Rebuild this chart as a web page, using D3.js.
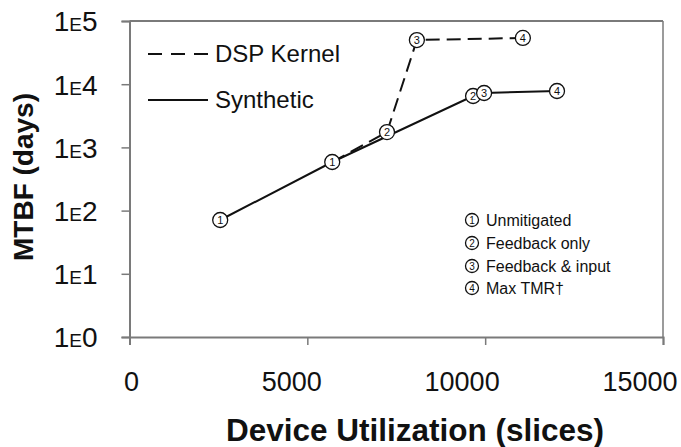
<!DOCTYPE html>
<html>
<head>
<meta charset="utf-8">
<script src="https://cdn.jsdelivr.net/npm/d3@7"></script>
<style>
  html, body { margin: 0; padding: 0; background: #fff; }
  text { font-family: "Liberation Sans", Arial, Helvetica, sans-serif; fill: #111; }
</style>
</head>
<body>
<svg id="chart" width="681" height="447"></svg>
<script>
// ---- data ----
const synthX = [2550, 5700, 9660, 9970, 12020];
const synthY = [71, 587, 6500, 7260, 7800];
const synthStage = [1, 1, 2, 3, 4];

const dspX = [5700, 7240, 8080, 11060];
const dspY = [587, 1750, 50000, 53900];
const dspStage = [1, 2, 3, 4];

const xTicks = [0, 5000, 10000, 15000];
const yTickExp = [0, 1, 2, 3, 4, 5];

const seriesNames = ["DSP Kernel", "Synthetic"];
const stageNames = ["Unmitigated", "Feedback only", "Feedback & input", "Max TMR\u2020"];

(function () {
// ---- layout ----
const svg = d3.select("#chart");
const pLeft = 129.5, pRight = 663, pTop = 21, pBottom = 337;

const x = d3.scaleLinear().domain([0, 15000]).range([pLeft, pRight]);
const y = d3.scaleLog().domain([1, 1e5]).range([pBottom, pTop]);

const axisColor = "#7a7a7a";

// frame (top and right)
svg.append("line").attr("x1", pLeft).attr("x2", pRight).attr("y1", pTop).attr("y2", pTop)
  .attr("stroke", axisColor).attr("stroke-width", 2);
svg.append("line").attr("x1", pRight).attr("x2", pRight).attr("y1", pTop).attr("y2", pBottom)
  .attr("stroke", axisColor).attr("stroke-width", 1.5);

// x axis
const xAxis = svg.append("g").attr("transform", `translate(0,${pBottom})`)
  .call(d3.axisBottom(x).tickValues(xTicks).tickSize(8).tickPadding(27).tickFormat(d3.format("d")));
xAxis.select(".domain").attr("stroke", axisColor).attr("stroke-width", 2);
xAxis.selectAll(".tick line").attr("stroke", axisColor).attr("stroke-width", 1.5);
xAxis.selectAll(".tick text").attr("font-size", 27).attr("fill", "#111")
  .attr("font-family", "'Liberation Sans', Arial, sans-serif")
  .attr("text-anchor", "end").attr("x", d => d === 0 ? 9 : 14);

// y axis
const yAxis = svg.append("g").attr("transform", `translate(${pLeft},0)`)
  .call(d3.axisLeft(y).tickValues(yTickExp.map(e => Math.pow(10, e))).tickSize(8).tickPadding(24).tickFormat(""));
yAxis.select(".domain").attr("stroke", axisColor).attr("stroke-width", 2);
yAxis.selectAll(".tick line").attr("stroke", axisColor).attr("stroke-width", 1.5);
yAxis.selectAll(".tick").each(function(d) {
  const t = d3.select(this).select("text")
    .attr("font-size", 28).attr("fill", "#111").attr("dy", "0.35em")
    .attr("font-family", "'Liberation Sans', Arial, sans-serif").text(null);
  t.append("tspan").text("1");
  t.append("tspan").attr("font-size", 19).text("E");
  t.append("tspan").text(Math.round(Math.log10(d)));
});

// axis titles
svg.append("text").attr("x", 415).attr("y", 441).attr("text-anchor", "middle")
  .attr("font-size", 31.5).attr("font-weight", "bold").text("Device Utilization (slices)");
svg.append("text").attr("transform", "translate(33,177) rotate(-90)").attr("text-anchor", "middle")
  .attr("font-size", 28).attr("font-weight", "bold").text("MTBF (days)");

// lines
const synthPts = synthX.map((v, i) => [x(v), y(synthY[i])]);
const dspPts = dspX.map((v, i) => [x(v), y(dspY[i])]);
const lineGen = d3.line();

svg.append("path").attr("d", lineGen(dspPts)).attr("fill", "none")
  .attr("stroke", "#111").attr("stroke-width", 2).attr("stroke-dasharray", "14,7");
svg.append("path").attr("d", lineGen(synthPts)).attr("fill", "none")
  .attr("stroke", "#111").attr("stroke-width", 2);

function marker(g, cx, cy, n, r, fs) {
  g.append("circle").attr("cx", cx).attr("cy", cy).attr("r", r)
    .attr("fill", "#fff").attr("stroke", "#111").attr("stroke-width", 1.3);
  g.append("text").attr("x", cx).attr("y", cy).attr("dy", "0.36em").attr("text-anchor", "middle")
    .attr("font-size", fs).text(n);
}

const mk = svg.append("g");
synthPts.forEach((p, i) => marker(mk, p[0], p[1], synthStage[i], 7.5, 11));
dspPts.forEach((p, i) => { if (i > 0) marker(mk, p[0], p[1], dspStage[i], 7.5, 11); });

// series legend
const legY = [54, 100];
const leg = svg.append("g");
seriesNames.forEach((name, i) => {
  leg.append("line").attr("x1", 148).attr("x2", 208).attr("y1", legY[i]).attr("y2", legY[i])
    .attr("stroke", "#111").attr("stroke-width", 2)
    .attr("stroke-dasharray", i === 0 ? "14,9" : null);
  leg.append("text").attr("x", 215).attr("y", legY[i]).attr("dy", "0.35em")
    .attr("font-size", 24).text(name);
});

// stage legend
const stY = [220, 243, 266, 288];
const st = svg.append("g");
stageNames.forEach((name, i) => {
  marker(st, 472, stY[i], i + 1, 6.5, 10);
  st.append("text").attr("x", 486).attr("y", stY[i]).attr("dy", "0.36em")
    .attr("font-size", 16).text(name);
});
})();
</script>
</body>
</html>
